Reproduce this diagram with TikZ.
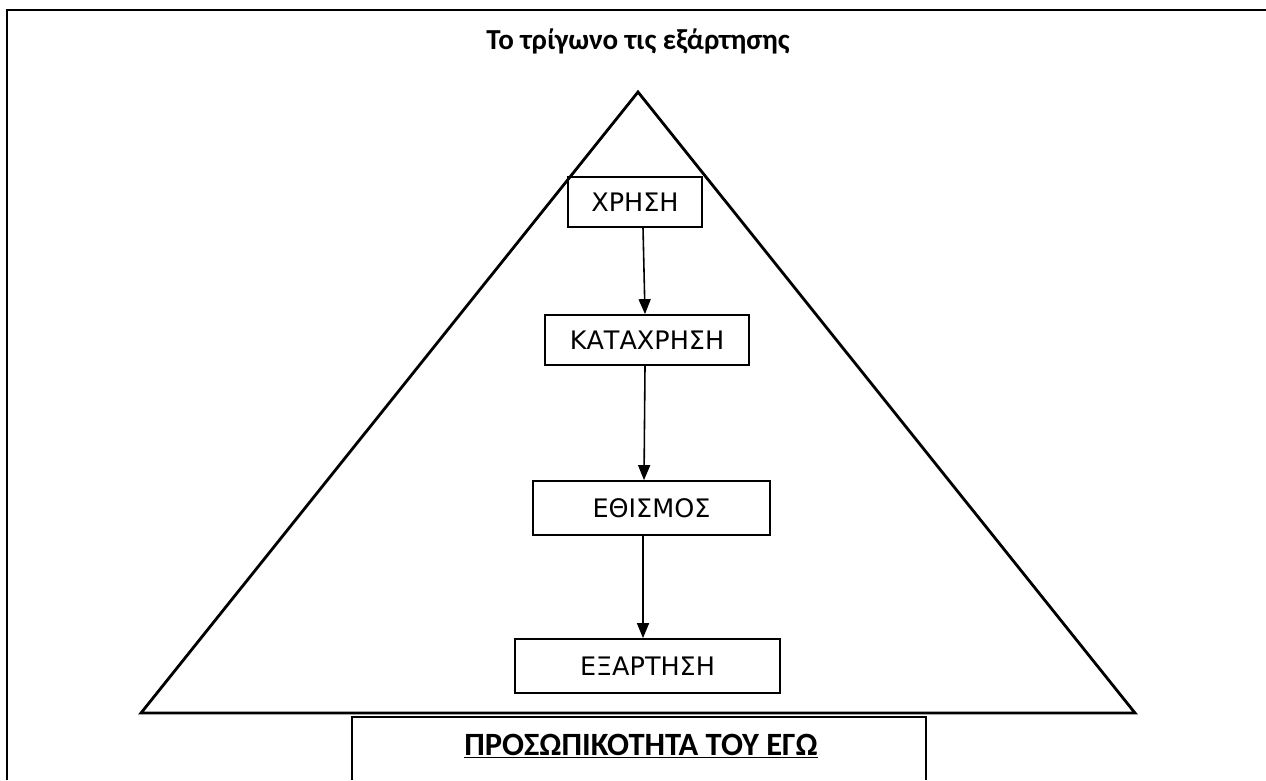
\documentclass[tikz,border=0pt]{standalone}
\usepackage{fontspec}
\setmainfont{DejaVu Sans}
\newfontfamily\headfont{Carlito}
\usetikzlibrary{arrows.meta}

\begin{document}
\begin{tikzpicture}
[x=0.02cm,y=-0.02cm,
 boxdecorate/.style={shape=rectangle,draw,line width=1pt,inner sep=0pt,%
   font=\fontsize{14.5}{17}\selectfont},
 headdecorate/.style={inner sep=0pt,anchor=base,font=\headfont\bfseries\fontsize{16.5}{19}\selectfont},
 linedecorate/.style={-,line width=1pt},
 arrowdecorate/.style={-{Triangle[length=0.3cm,width=0.24cm]},line width=0.9pt}]
\useasboundingbox (0,0) rectangle (1266,780);
% frame and triangle
\draw[linedecorate] (7,780) -- (7,10) -- (1266,10);
\draw[line width=1.6pt,line join=miter] (638,92) -- (141,713) -- (1135,713) -- cycle;
\draw[linedecorate] (352,780) -- (352,717) -- (926,717) -- (926,780);
% titles
\node (title) at (638,50) [headdecorate] {Το τρίγωνο τις εξάρτησης};
\node (ego) at (641,755) [headdecorate,font=\headfont\bfseries\fontsize{18.5}{21}\selectfont] {\underline{ΠΡΟΣΩΠΙΚΟΤΗΤΑ ΤΟΥ ΕΓΩ}};
% nodes or steps
\node (xrisi) at (635,202) [boxdecorate,minimum width=2.68cm,minimum height=1cm] {ΧΡΗΣΗ};
\node (katax) at (647,340) [boxdecorate,minimum width=4.08cm,minimum height=1cm] {ΚΑΤΑΧΡΗΣΗ};
\node (ethis) at (651.5,508) [boxdecorate,minimum width=4.74cm,minimum height=1.08cm] {ΕΘΙΣΜΟΣ};
\node (exart) at (647.5,666) [boxdecorate,minimum width=5.3cm,minimum height=1.08cm] {ΕΞΑΡΤΗΣΗ};
% arrows
\path
([xshift=0.16cm]xrisi.south) edge[arrowdecorate] ([xshift=-0.04cm]katax.north)
([xshift=-0.04cm]katax.south) edge[arrowdecorate] ([xshift=-0.15cm]ethis.north)
([xshift=-0.17cm]ethis.south) edge[arrowdecorate] ([xshift=-0.09cm]exart.north);
\end{tikzpicture}
\end{document}
